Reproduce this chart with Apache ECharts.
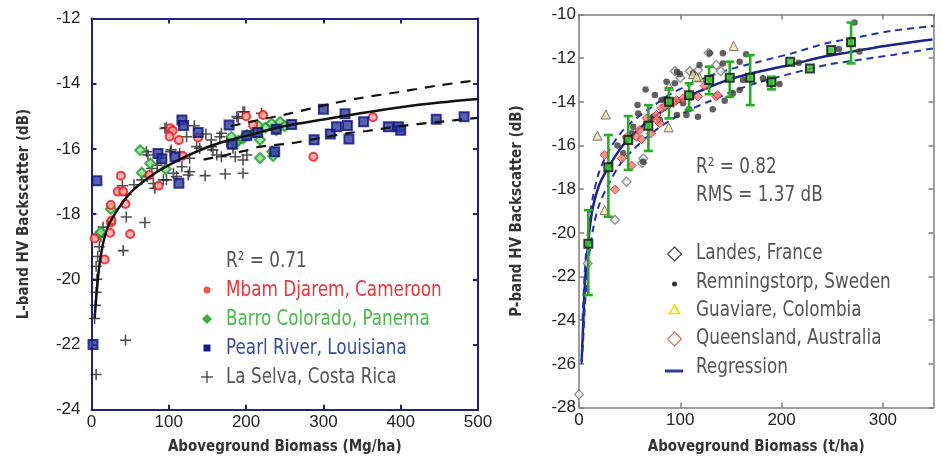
<!DOCTYPE html>
<html><head><meta charset="utf-8">
<script src="https://cdn.jsdelivr.net/npm/echarts/dist/echarts.min.js"></script>
<style>html,body{margin:0;padding:0;background:#fff}#c{width:943px;height:461px}</style>
</head><body><div id="c"></div>
<script>
// ---------- LEFT PANEL (L-band) ----------
const leftXTicks = [0, 100, 200, 300, 400, 500];
const leftYTicks = [-24, -22, -20, -18, -16, -14, -12];
const mbamData = [[4,-18.75],[17,-19.39],[24,-18.57],[25,-18.26],[26,-18.2],[25,-17.72],[44,-17.69],[50,-18.61],[34,-17.31],[41,-17.31],[38,-16.82],[75,-16.8],[87,-17.13],[102,-15.37],[105,-15.44],[101,-15.62],[113,-15.73],[118,-16.21],[138,-15.65],[200,-15.0],[222,-14.96],[209,-15.27],[364,-15.03],[287,-16.24]];
const barroData = [[10,-18.62],[12,-18.55],[25,-17.84],[63,-16.04],[76,-16.45],[65,-16.73],[96,-16.62],[181,-15.63],[190,-15.75],[196,-15.68],[201,-15.57],[210,-15.5],[216,-15.3],[225,-15.35],[233,-15.22],[239,-15.42],[244,-15.17],[250,-15.3],[218,-15.72],[234,-16.08],[218,-16.28],[235,-16.22],[186,-15.8]];
const pearlData = [[2,-22.0],[7,-16.98],[117,-15.11],[119,-15.28],[138,-15.5],[86,-16.14],[91,-16.3],[108,-16.24],[113,-17.05],[178,-15.27],[182,-15.86],[201,-15.6],[215,-15.5],[239,-15.4],[237,-16.09],[259,-15.25],[288,-15.72],[300,-14.78],[309,-15.54],[317,-15.32],[328,-14.92],[331,-15.28],[333,-15.7],[352,-15.17],[384,-15.32],[397,-15.32],[400,-15.43],[446,-15.09],[482,-15.01]];
const selvaData = [[6,-22.92],[44,-21.87],[41,-19.12],[69,-18.26],[45,-18.09],[4,-21.2],[5,-20.8],[6,-20.4],[7,-20.0],[6,-19.6],[8,-19.3],[10,-19.0],[12,-18.7],[15,-18.4],[40,-17.13],[45,-17.4],[55,-17.1],[65,-16.95],[72,-16.85],[82,-17.21],[80,-17.06],[93,-16.95],[97,-16.95],[106,-16.75],[110,-16.85],[117,-16.55],[125,-16.8],[127,-16.7],[147,-16.82],[173,-16.77],[196,-16.75],[71,-16.09],[73,-16.19],[89,-16.29],[102,-16.09],[103,-16.03],[114,-16.14],[127,-16.29],[136,-15.93],[140,-15.98],[155,-15.93],[157,-16.03],[162,-16.19],[168,-16.24],[175,-15.78],[183,-15.98],[186,-16.24],[196,-16.34],[201,-16.19],[95,-15.37],[97,-15.35],[123,-15.63],[133,-15.29],[148,-15.54],[155,-15.73],[166,-15.63],[168,-15.52],[188,-15.01],[190,-15.06],[196,-14.86],[198,-14.86],[220,-14.91],[78,-16.6],[85,-16.5]];
const fitX = [4,6,10,15,21,30,40,52,70,85,100,125,150,175,200,250,300,350,400,450,500];
const fitY = [-21.2,-20.6,-19.6,-18.9,-18.4,-18.0,-17.65,-17.3,-16.95,-16.7,-16.5,-16.2,-15.95,-15.75,-15.6,-15.3,-15.1,-14.9,-14.72,-14.58,-14.47];
const upLX = [180,200,227,250,313,350,399,450,500];
const upLY = [-15.3,-15.2,-15.06,-14.95,-14.6,-14.43,-14.25,-14.05,-13.89];
const loLX = [145,200,218,257,300,334,356,400,450,500];
const loLY = [-16.33,-16.05,-15.93,-15.83,-15.65,-15.51,-15.45,-15.3,-15.17,-15.05];

// ---------- RIGHT PANEL (P-band) ----------
const rightXTicks = [0, 100, 200, 300];
const rightYTicks = [-28, -26, -24, -22, -20, -18, -16, -14, -12, -10];
const landesData = [[0,-27.4],[8.6,-21.4],[35.5,-19.4],[47,-17.66],[62.4,-16.8],[63.5,-16.6],[94.6,-12.6],[109.4,-12.6],[117.5,-12.55],[128,-11.76],[135.6,-12.31],[100,-12.9],[140,-12.6]];
const remnData = [[65.7,-13.43],[74.9,-13.69],[57.8,-14.15],[84.7,-13.88],[99.5,-12.73],[119,-12.31],[129,-11.78],[142,-11.78],[165,-11.82],[158.6,-12.16],[132,-14.34],[117.5,-14.68],[108.7,-14.34],[102.8,-14.07],[143.8,-13.95],[152,-13.61],[158.6,-13.46],[162,-13.0],[181.6,-12.92],[188,-13.08],[112.6,-12.69],[96.8,-12.62],[86.4,-13.08],[94.6,-13.15],[97.8,-13.92],[81.5,-13.92],[79.8,-14.83],[73.2,-14.68],[53.5,-15.14],[51.9,-15.44],[43.6,-16.36],[63.3,-16.74],[58.4,-14.53],[71.6,-14.76],[96.8,-14.6],[106,-14.6],[198,-13.18],[217,-12.21],[256.5,-11.59],[276.8,-11.7],[272,-10.37],[142,-12.24],[38,-16.0],[30,-16.9]];
const guavData = [[152.7,-11.44],[26.5,-14.58],[18.2,-15.55],[88.5,-15.17],[89,-13.28],[112.6,-12.73],[119,-12.88],[25.3,-18.96],[116,-12.85]];
const queensData = [[25.3,-16.44],[35.5,-18.02],[42.3,-16.59],[52,-16.92],[47,-15.62],[56.8,-15.6],[61.8,-15.71],[70.8,-15.45],[79.8,-14.98],[66.7,-14.76],[76.6,-14.6],[76.6,-14.83],[81.5,-14.3],[88,-13.99],[89.7,-14.1],[96.3,-13.92],[102.8,-13.84],[111,-13.76],[117.5,-13.76],[124,-13.26],[129,-12.92],[135.6,-13.76],[137,-13.69],[60,-15.29],[85,-14.2],[93,-14.05]];
const meanX = [9.2,29,48.6,68.5,88.8,108.7,128.5,148.8,169,190,208.5,228,249,268.6];
const meanY = [-20.5,-17.0,-15.75,-15.1,-14.0,-13.7,-13.0,-12.9,-12.9,-13.1,-12.16,-12.47,-11.63,-11.27];
const errLow = [-22.85,-19.26,-17.12,-16.25,-14.76,-14.37,-13.65,-13.77,-14.15,-13.43,null,null,null,-12.24];
const errHigh = [-18.96,-15.52,-14.65,-14.15,-13.38,-13.15,-12.39,-12.16,-11.86,-12.85,null,null,null,-10.37];
const regX = [2.6,3.5,4.3,6,9.2,13,20,29,40,49,68,90,110,130,150,170,208,240,270,300,349];
const regY = [-25.9,-24.9,-24.0,-22.2,-20.4,-19.0,-17.8,-17.0,-16.2,-15.7,-14.9,-14.2,-13.7,-13.3,-12.95,-12.7,-12.31,-11.95,-11.7,-11.45,-11.14];
const upRX = [3.5,5,7,10,14,20,30,40,50,70,90,110,130,150,178,210,244,280,310,350];
const upRY = [-24.0,-22.4,-20.9,-19.5,-18.3,-17.2,-16.2,-15.5,-15.0,-14.3,-13.65,-13.2,-12.8,-12.5,-12.16,-11.78,-11.32,-11.0,-10.74,-10.53];
const loRX = [2.5,4,6,9,14,20,30,40,50,70,90,110,130,150,178,210,244,280,310,350];
const loRY = [-26,-25.0,-23.2,-21.4,-19.8,-18.7,-17.7,-16.9,-16.35,-15.5,-14.85,-14.35,-13.95,-13.55,-13.1,-12.7,-12.31,-12.05,-11.85,-11.55];

const zip = (a, b) => a.map((v, i) => [v, b[i]]);
const NARROW = "'Liberation Sans Narrow','DejaVu Sans Condensed',sans-serif";
const TICKF = "'Liberation Sans',Arial,sans-serif";

function mkX(grid, pos, min, max, ticks, color, lw, showLabel, name, nameGap) {
  return {
    type: 'value', gridIndex: grid, position: pos, min: min, max: max, interval: ticks[1] - ticks[0],
    axisLine: { show: true, onZero: false, lineStyle: { color: color, width: lw } },
    axisTick: { show: true, inside: true, length: 5, lineStyle: { color: color, width: lw } },
    axisLabel: { show: showLabel, margin: 4, color: '#222', fontSize: 17, fontFamily: TICKF, showMaxLabel: max === ticks[ticks.length - 1] },
    splitLine: { show: false },
    name: name, nameLocation: 'middle', nameGap: nameGap,
    nameTextStyle: { fontFamily: NARROW, fontWeight: 'bold', fontSize: 15, color: '#333' }
  };
}
function mkY(grid, pos, min, max, ticks, color, lw, showLabel, margin, name, nameGap) {
  return {
    type: 'value', gridIndex: grid, position: pos, min: min, max: max, interval: ticks[1] - ticks[0],
    axisLine: { show: true, onZero: false, lineStyle: { color: color, width: lw } },
    axisTick: { show: true, inside: true, length: 5, lineStyle: { color: color, width: lw } },
    axisLabel: { show: showLabel, margin: margin, color: '#222', fontSize: 17, fontFamily: TICKF },
    splitLine: { show: false },
    name: name, nameLocation: 'middle', nameGap: nameGap,
    nameTextStyle: { fontFamily: NARROW, fontWeight: 'bold', fontSize: 15, color: '#333' }
  };
}

const NAVY = '#22227a';
const GRAYAX = '#808080';
const crossPath = 'path://M4.3,0H5.7V4.3H10V5.7H5.7V10H4.3V5.7H0V4.3H4.3Z';

const series = [
  // left scatter
  { name: 'La Selva, Costa Rica', type: 'scatter', xAxisIndex: 0, yAxisIndex: 0, data: selvaData, symbol: crossPath, symbolSize: 11, itemStyle: { color: '#222' }, z: 2 },
  { name: 'Barro Colorado, Panema', type: 'scatter', xAxisIndex: 0, yAxisIndex: 0, data: barroData, symbol: 'diamond', symbolSize: 10, itemStyle: { color: '#8fe08f', borderColor: '#1f9a2a', borderWidth: 2 }, z: 3 },
  { name: 'Mbam Djarem, Cameroon', type: 'scatter', xAxisIndex: 0, yAxisIndex: 0, data: mbamData, symbol: 'circle', symbolSize: 8, itemStyle: { color: '#ffa0a0', borderColor: '#e8161b', borderWidth: 2 }, z: 3 },
  { name: 'Pearl River, Louisiana', type: 'scatter', xAxisIndex: 0, yAxisIndex: 0, data: pearlData, symbol: 'rect', symbolSize: 9, itemStyle: { color: '#2c3a9c', borderColor: '#10107a', borderWidth: 2 }, z: 3 },
  { name: 'L fit', type: 'line', xAxisIndex: 0, yAxisIndex: 0, data: zip(fitX, fitY), showSymbol: false, smooth: 0.3, lineStyle: { color: '#111', width: 2.5 }, z: 4 },
  { name: 'L upper', type: 'line', xAxisIndex: 0, yAxisIndex: 0, data: zip(upLX, upLY), showSymbol: false, smooth: 0.3, lineStyle: { color: '#111', width: 2.2, type: [10, 8] }, z: 4 },
  { name: 'L lower', type: 'line', xAxisIndex: 0, yAxisIndex: 0, data: zip(loLX, loLY), showSymbol: false, smooth: 0.3, lineStyle: { color: '#111', width: 2.2, type: [10, 8] }, z: 4 },
  // right lines
  { name: 'Regression', type: 'line', xAxisIndex: 2, yAxisIndex: 2, data: zip(regX, regY), showSymbol: false, smooth: 0.3, lineStyle: { color: '#1a2388', width: 2.5 }, z: 2 },
  { name: 'P upper', type: 'line', xAxisIndex: 2, yAxisIndex: 2, data: zip(upRX, upRY), showSymbol: false, smooth: 0.3, lineStyle: { color: '#2233aa', width: 2, type: [7, 5] }, z: 2 },
  { name: 'P lower', type: 'line', xAxisIndex: 2, yAxisIndex: 2, data: zip(loRX, loRY), showSymbol: false, smooth: 0.3, lineStyle: { color: '#2233aa', width: 2, type: [7, 5] }, z: 2 },
  // right scatter
  { name: 'Landes, France', type: 'scatter', xAxisIndex: 2, yAxisIndex: 2, data: landesData, symbol: 'diamond', symbolSize: 9, itemStyle: { color: '#eeeeee', borderColor: '#777', borderWidth: 1.3 }, z: 3 },
  { name: 'Remningstorp, Sweden', type: 'scatter', xAxisIndex: 2, yAxisIndex: 2, data: remnData, symbol: 'circle', symbolSize: 6.5, itemStyle: { color: '#3a3a3a' }, z: 3 },
  { name: 'Guaviare, Colombia', type: 'scatter', xAxisIndex: 2, yAxisIndex: 2, data: guavData, symbol: 'triangle', symbolSize: 9, itemStyle: { color: '#f2e2a8', borderColor: '#555', borderWidth: 1 }, z: 3 },
  { name: 'Queensland, Australia', type: 'scatter', xAxisIndex: 2, yAxisIndex: 2, data: queensData, symbol: 'diamond', symbolSize: 9, itemStyle: { color: '#f07a7a', borderColor: '#c83232', borderWidth: 1 }, z: 3 },
  { name: 'Error bars', type: 'custom', xAxisIndex: 2, yAxisIndex: 2, z: 4,
    data: meanX.map((x, i) => [x, errLow[i], errHigh[i]]).filter(d => d[1] !== null),
    encode: { x: 0, y: [1, 2] },
    renderItem: function (params, api) {
      const x = api.value(0), lo = api.value(1), hi = api.value(2);
      const a = api.coord([x, hi]), b = api.coord([x, lo]);
      const w = 4.5;
      const st = { stroke: '#22b022', lineWidth: 2.6, fill: null };
      return { type: 'group', children: [
        { type: 'line', shape: { x1: a[0], y1: a[1], x2: b[0], y2: b[1] }, style: st },
        { type: 'line', shape: { x1: a[0] - w, y1: a[1], x2: a[0] + w, y2: a[1] }, style: st },
        { type: 'line', shape: { x1: b[0] - w, y1: b[1], x2: b[0] + w, y2: b[1] }, style: st }
      ] };
    }
  },
  { name: 'Means', type: 'scatter', xAxisIndex: 2, yAxisIndex: 2, data: zip(meanX, meanY), symbol: 'rect', symbolSize: 8, itemStyle: { color: '#35c035', borderColor: '#111', borderWidth: 2 }, z: 5 }
];

const SX = 0.85;
const txt = (x, y, s, c) => ({ type: 'text', x: x, y: y, scaleX: SX, style: { text: s, fill: c, font: "normal 22px " + NARROW, verticalAlign: 'middle', align: 'left' } });
const diamondPts = (cx, cy, r) => [[cx, cy - r], [cx + r, cy], [cx, cy + r], [cx - r, cy]];

const graphic = [
  // left legend
  txt(226, 261, 'R\u00b2 = 0.71', '#555'),
  { type: 'circle', shape: { cx: 207, cy: 290, r: 3.5 }, style: { fill: '#f0534f' } },
  txt(226, 290, 'Mbam Djarem, Cameroon', '#e8363b'),
  { type: 'polygon', shape: { points: diamondPts(207, 319, 5) }, style: { fill: '#3aae3a' } },
  txt(226, 319, 'Barro Colorado, Panema', '#4db84d'),
  { type: 'rect', shape: { x: 203.5, y: 344.5, width: 7, height: 7 }, style: { fill: '#1a1a8c' } },
  txt(226, 348, 'Pearl River, Louisiana', '#3a4d9e'),
  { type: 'line', shape: { x1: 201, y1: 377, x2: 213, y2: 377 }, style: { stroke: '#333', lineWidth: 1.2 } },
  { type: 'line', shape: { x1: 207, y1: 371, x2: 207, y2: 383 }, style: { stroke: '#333', lineWidth: 1.2 } },
  txt(226, 377, 'La Selva, Costa Rica', '#555'),
  // right annotations
  txt(696, 167, 'R\u00b2 = 0.82', '#555'),
  txt(696, 195, 'RMS = 1.37 dB', '#555'),
  // right legend
  { type: 'polygon', shape: { points: diamondPts(674.5, 254, 7) }, style: { fill: '#fff', stroke: '#444', lineWidth: 1.2 } },
  txt(696, 253, 'Landes, France', '#555'),
  { type: 'circle', shape: { cx: 674.5, cy: 284, r: 2.5 }, style: { fill: '#333' } },
  txt(696, 282, 'Remningstorp, Sweden', '#555'),
  { type: 'polygon', shape: { points: [[674.5, 305], [679.5, 313.5], [669.5, 313.5]] }, style: { fill: '#fff', stroke: '#f2e000', lineWidth: 1.6 } },
  txt(696, 310, 'Guaviare, Colombia', '#555'),
  { type: 'polygon', shape: { points: diamondPts(674.5, 339, 7) }, style: { fill: '#fff', stroke: '#e07070', lineWidth: 1.2 } },
  txt(696, 338, 'Queensland, Australia', '#555'),
  { type: 'line', shape: { x1: 665, y1: 371, x2: 683, y2: 371 }, style: { stroke: '#2a3a9a', lineWidth: 3 } },
  txt(696, 367, 'Regression', '#555')
];

const chart = echarts.init(document.getElementById('c'), null, { renderer: 'canvas' });
chart.setOption({
  animation: false,
  backgroundColor: '#fff',
  grid: [
    { left: 91.5, top: 18.5, width: 386.5, height: 391.2 },
    { left: 579, top: 14.5, width: 354.5, height: 393 }
  ],
  xAxis: [
    mkX(0, 'bottom', 0, 500, leftXTicks, NAVY, 2, true, 'Aboveground Biomass (Mg/ha)', 30),
    mkX(0, 'top', 0, 500, leftXTicks, NAVY, 2, false, '', 0),
    mkX(1, 'bottom', 0, 350, rightXTicks, GRAYAX, 1.5, true, 'Aboveground Biomass (t/ha)', 32),
    mkX(1, 'top', 0, 350, rightXTicks, GRAYAX, 1.5, false, '', 0)
  ],
  yAxis: [
    mkY(0, 'left', -24, -12, leftYTicks, NAVY, 2, true, 11, 'L-band HV Backscatter (dB)', 60),
    mkY(0, 'right', -24, -12, leftYTicks, NAVY, 2, false, 8, '', 0),
    mkY(1, 'left', -28, -10, rightYTicks, GRAYAX, 1.5, true, 3, 'P-band HV Backscatter (dB)', 54),
    mkY(1, 'right', -28, -10, rightYTicks, GRAYAX, 1.5, false, 8, '', 0)
  ],
  series: series,
  graphic: graphic
});
</script></body></html>
